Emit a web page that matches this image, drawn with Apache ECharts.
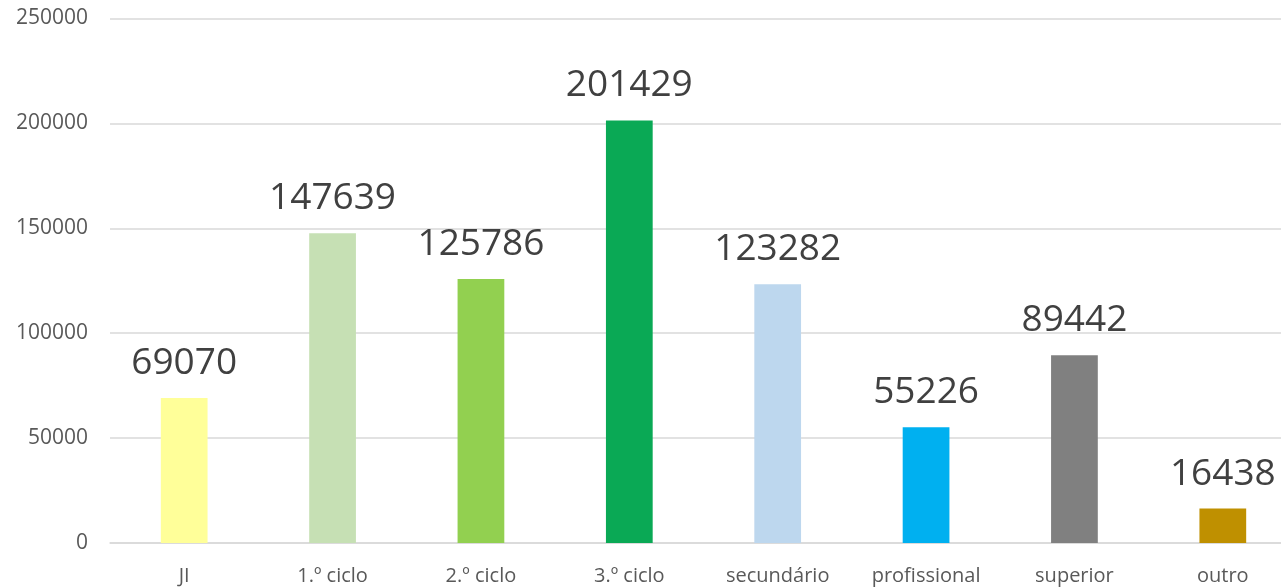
<!DOCTYPE html>
<html><head><meta charset="utf-8">
<script src="https://cdn.jsdelivr.net/npm/echarts@6/dist/echarts.min.js"></script>
<style>html,body{margin:0;padding:0;background:#fff;overflow:hidden}#c{width:1297px;height:587px}</style>
</head><body><div id="c"></div>
<script>
const categories = ['JI','1.º ciclo','2.º ciclo','3.º ciclo','secundário','profissional','superior','outro'];
const values = [69070,147639,125786,201429,123282,55226,89442,16438];
const colors = ['#FFFF99','#C6E0B4','#92D050','#0AA955','#BDD7EE','#00B0F0','#808080','#BF9000'];
const chart = echarts.init(document.getElementById('c'));
chart.setOption({
  animation:false,
  grid:{left:110, top:18.5, right:0, height:524.5, containLabel:false},
  xAxis:{type:'category', data:categories,
    axisLine:{show:true,lineStyle:{color:'#D9D9D9',width:1.5}}, axisTick:{show:false},
    axisLabel:{color:'#595959', fontFamily:'Open Sans', fontSize:20, margin:23}},
  yAxis:{type:'value', min:0, max:250000, interval:50000,
    axisLine:{show:false}, axisTick:{show:false},
    splitLine:{lineStyle:{color:'#D9D9D9',width:1.5}},
    axisLabel:{color:'#595959', fontFamily:'Open Sans', fontSize:21, margin:22, formatter:v=>String(v)}},
  series:[{type:'bar', barWidth:'31.5%',
    data:values.map((v,i)=>({value:v,itemStyle:{color:colors[i]}})),
    label:{show:true, position:'top', distance:16, color:'#404040', fontFamily:'Open Sans', fontSize:37}}]
});
</script></body></html>
